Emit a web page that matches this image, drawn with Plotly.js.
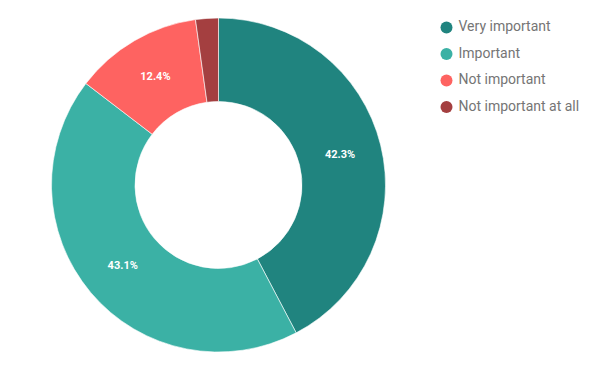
<!DOCTYPE html>
<html>
<head>
<meta charset="utf-8">
<script src="https://cdn.plot.ly/plotly-3.0.1.min.js"></script>
<style>html,body{margin:0;padding:0;background:#fff;}#chart{width:600px;height:371px;}</style>
</head>
<body>
<div id="chart"></div>
<script>
var categories = ["Very important", "Important", "Not important", "Not important at all"];
var values = [42.3, 43.1, 12.4, 2.2];
var colors = ["#20847f", "#3bb1a5", "#fe6361", "#a43f40"];
var showLabel = [true, true, true, false];

var pie = {
  type: "pie",
  values: values,
  labels: categories,
  marker: {colors: colors, line: {color: "#ffffff", width: 0.6}},
  hole: 0.5,
  sort: false,
  direction: "clockwise",
  rotation: 0,
  texttemplate: showLabel.map(function(s){ return s ? "%{percent:.1%}" : ""; }),
  textposition: "inside",
  insidetextorientation: "horizontal",
  textfont: {family: "Roboto", size: 11, color: "#ffffff", weight: "bold"},
  domain: {x: [0.0825, 0.6458], y: [0.0512, 0.9515]},
  showlegend: false,
  hoverinfo: "label+percent"
};

// custom legend drawn as a marker+text scatter on pixel-like axes
var legendX = 446.5, legendY0 = 27.5, legendStep = 26.5;
var legend = {
  type: "scatter",
  mode: "markers+text",
  x: categories.map(function(){ return legendX; }),
  y: categories.map(function(c, i){ return legendY0 + i * legendStep; }),
  text: categories.map(function(c){ return " " + c; }),
  textposition: "middle right",
  textfont: {family: "Roboto", size: 14, color: "#757575"},
  marker: {color: colors, size: 12},
  showlegend: false,
  hoverinfo: "skip",
  cliponaxis: false
};

var layout = {
  width: 600, height: 371,
  margin: {l: 0, r: 0, t: 0, b: 0},
  paper_bgcolor: "#ffffff",
  plot_bgcolor: "rgba(0,0,0,0)",
  showlegend: false,
  xaxis: {range: [0, 600], visible: false, fixedrange: true, domain: [0, 1]},
  yaxis: {range: [371, 0], visible: false, fixedrange: true, domain: [0, 1]}
};

Plotly.newPlot("chart", [pie, legend], layout, {displayModeBar: false, staticPlot: true});
</script>
</body>
</html>
